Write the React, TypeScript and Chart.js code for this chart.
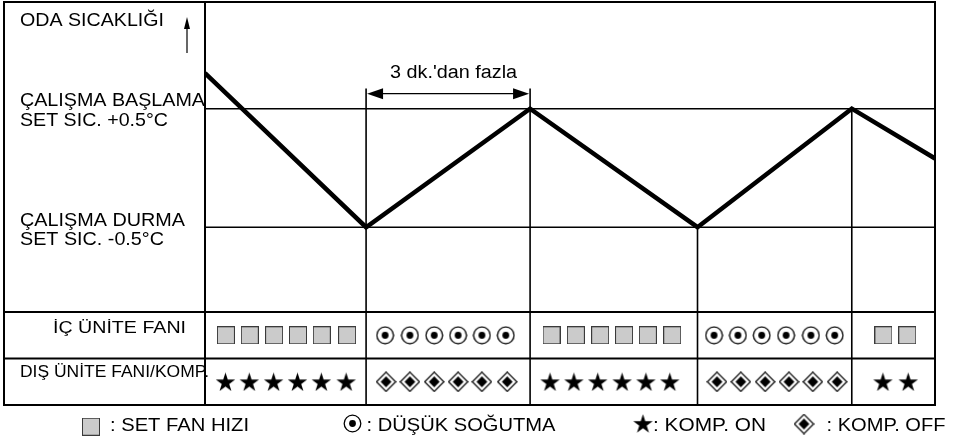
import React, { useEffect, useRef } from 'react';
import { Chart, registerables } from 'chart.js';

Chart.register(...registerables);

// ---- data (time in minutes-like units, temperature relative to set point in °C) ----
const cycleTimes = [0, 3.31, 6.68, 10.12, 13.29, 15];
const roomTemps = [0.8, -0.5, 0.5, -0.5, 0.5, 0.08];
const startSet = 0.5;
const stopSet = -0.5;
const boundaryTimes = [3.31, 6.68, 10.12, 13.29];
const boundaryTops = [0.67, 0.67, -0.5, 0.5];

const axisTitle = 'ODA SICAKLIĞI';
const startLabel = ['ÇALIŞMA BAŞLAMA', 'SET SIC. +0.5°C'];
const stopLabel = ['ÇALIŞMA DURMA', 'SET SIC. -0.5°C'];
const minRunLabel = "3 dk.'dan fazla";
const rowLabels = ['İÇ ÜNİTE FANI', 'DIŞ ÜNİTE FANI/KOMP.'];

const indoorModes = ['fan', 'low', 'fan', 'low', 'fan'];
const outdoorModes = ['on', 'off', 'on', 'off', 'on'];
const indoorTimes = [
  [0.43, 0.92, 1.42, 1.91, 2.4, 2.92],
  [3.7, 4.21, 4.71, 5.2, 5.69, 6.18],
  [7.12, 7.62, 8.12, 8.61, 9.1, 9.6],
  [10.46, 10.95, 11.44, 11.94, 12.45, 12.94],
  [13.94, 14.43],
];
const outdoorTimes = [
  [0.42, 0.91, 1.41, 1.9, 2.39, 2.9],
  [3.72, 4.21, 4.71, 5.2, 5.69, 6.21],
  [7.09, 7.58, 8.07, 8.57, 9.06, 9.55],
  [10.52, 11.01, 11.51, 12.0, 12.49, 12.99],
  [13.93, 14.45],
];

const legendModes = ['fan', 'low', 'on', 'off'];
const legendTexts = [': SET FAN HIZI', ': DÜŞÜK SOĞUTMA', ': KOMP. ON', ': KOMP. OFF'];

// axis ranges
const timeRange = [0, 15];
const tempRange = [-2.0, 1.4];
const rowRange = [-6.667, 2];

const FONT = '"Liberation Sans", Arial, Helvetica, sans-serif';

function makeCanvas(w: number, h: number) {
  const c = document.createElement('canvas');
  c.width = w;
  c.height = h;
  return c;
}

function makeSymbols() {
  const fan = makeCanvas(18, 18);
  {
    const g = fan.getContext('2d')!;
    g.fillStyle = '#cbcbcb';
    g.fillRect(0, 0, 18, 18);
    g.strokeStyle = '#3a3a3a';
    g.lineWidth = 1;
    g.strokeRect(0.5, 0.5, 17, 17);
  }
  const low = makeCanvas(19, 19);
  {
    const g = low.getContext('2d')!;
    g.fillStyle = '#fff';
    g.strokeStyle = '#000';
    g.lineWidth = 1.3;
    g.beginPath();
    g.arc(9.5, 9.5, 8.3, 0, Math.PI * 2);
    g.fill();
    g.stroke();
    g.fillStyle = '#000';
    g.beginPath();
    g.arc(9.5, 9.5, 3.4, 0, Math.PI * 2);
    g.fill();
  }
  const on = makeCanvas(21, 19);
  {
    const g = on.getContext('2d')!;
    const R = 10.2;
    const r = R * 0.382;
    const cx = 10.5;
    const cy = 9.5 + R * (1 - Math.cos(Math.PI / 5)) / 2;
    g.fillStyle = '#000';
    g.beginPath();
    for (let i = 0; i < 10; i++) {
      const rad = i % 2 === 0 ? R : r;
      const ang = -Math.PI / 2 + (i * Math.PI) / 5;
      const px = cx + rad * Math.cos(ang);
      const py = cy + rad * Math.sin(ang);
      if (i === 0) g.moveTo(px, py);
      else g.lineTo(px, py);
    }
    g.closePath();
    g.fill();
  }
  const off = makeCanvas(21, 21);
  {
    const g = off.getContext('2d')!;
    const c = 10.5;
    const R = 9.6;
    g.fillStyle = '#fff';
    g.strokeStyle = '#000';
    g.lineWidth = 1.2;
    g.beginPath();
    g.moveTo(c, c - R);
    g.lineTo(c + R, c);
    g.lineTo(c, c + R);
    g.lineTo(c - R, c);
    g.closePath();
    g.fill();
    g.stroke();
    const q = 5.4;
    g.fillStyle = '#000';
    g.beginPath();
    g.moveTo(c, c - q);
    g.lineTo(c + q, c);
    g.lineTo(c, c + q);
    g.lineTo(c - q, c);
    g.closePath();
    g.fill();
  }
  return { fan, low, on, off } as Record<string, HTMLCanvasElement>;
}

function fitText(ctx: CanvasRenderingContext2D, text: string, x: number, baseline: number, size: number, width: number) {
  ctx.save();
  ctx.font = `${size}px ${FONT}`;
  ctx.textAlign = 'left';
  ctx.textBaseline = 'alphabetic';
  ctx.fillStyle = '#000';
  const w = ctx.measureText(text).width;
  ctx.translate(x, baseline);
  ctx.scale(width / w, 1);
  ctx.fillText(text, 0, 0);
  ctx.restore();
}

function line(ctx: CanvasRenderingContext2D, x1: number, y1: number, x2: number, y2: number) {
  ctx.beginPath();
  ctx.moveTo(x1, y1);
  ctx.lineTo(x2, y2);
  ctx.stroke();
}

function head(ctx: CanvasRenderingContext2D, tipX: number, tipY: number, dx: number, dy: number, len: number, half: number) {
  const bx = tipX - dx * len;
  const by = tipY - dy * len;
  ctx.beginPath();
  ctx.moveTo(tipX, tipY);
  ctx.lineTo(bx - dy * half, by + dx * half);
  ctx.lineTo(bx + dy * half, by - dx * half);
  ctx.closePath();
  ctx.fill();
}

export default function App() {
  const ref = useRef<HTMLCanvasElement | null>(null);

  useEffect(() => {
    const canvas = ref.current;
    if (!canvas) return;
    const sym = makeSymbols();

    const collect = (modes: string[], times: number[][], mode: string, row: number) => {
      const pts: { x: number; y: number }[] = [];
      modes.forEach((m, i) => {
        if (m === mode) times[i].forEach((t) => pts.push({ x: t, y: row }));
      });
      return pts;
    };

    const symbolDataset = (mode: string, data: { x: number; y: number }[]) => ({
      type: 'scatter' as const,
      data,
      yAxisID: 'yRows',
      showLine: false,
      pointStyle: sym[mode],
      pointRadius: 9,
      pointHoverRadius: 9,
    });

    const verticalData: { x: number; y: number | null }[] = [];
    boundaryTimes.forEach((t, i) => {
      verticalData.push({ x: t, y: boundaryTops[i] });
      verticalData.push({ x: t, y: tempRange[0] });
      verticalData.push({ x: t, y: null });
    });

    const framePlugin = {
      id: 'diagramFrame',
      beforeDatasetsDraw(chart: any) {
        const { ctx, chartArea: a, scales } = chart;
        const rows = scales.yRows;
        const r0 = rows.getPixelForValue(0);
        const r1 = rows.getPixelForValue(1);
        ctx.save();
        ctx.strokeStyle = '#000';
        ctx.lineWidth = 2;
        ctx.strokeRect(4, a.top, a.right - 4, a.bottom - a.top);
        line(ctx, a.left, a.top, a.left, a.bottom);
        ctx.lineWidth = 1.8;
        line(ctx, 4, r0, a.right, r0);
        line(ctx, 4, r1, a.right, r1);
        ctx.restore();
      },
      afterDatasetsDraw(chart: any) {
        const { ctx, chartArea: a, scales } = chart;
        const xs = scales.x;
        const ys = scales.y;
        const rows = scales.yRows;
        ctx.save();
        ctx.fillStyle = '#000';
        ctx.strokeStyle = '#000';

        // left column labels
        fitText(ctx, axisTitle, 20, 26, 18, 144);
        const yStart = ys.getPixelForValue(startSet);
        const yStop = ys.getPixelForValue(stopSet);
        fitText(ctx, startLabel[0], 20, yStart - 2.5, 18, 185);
        fitText(ctx, startLabel[1], 20, yStart + 17, 18, 148);
        fitText(ctx, stopLabel[0], 20, yStop - 1.5, 18, 165);
        fitText(ctx, stopLabel[1], 20, yStop + 18, 18, 144);

        // up arrow next to the title
        ctx.lineWidth = 1.2;
        const ax = a.left - 18;
        line(ctx, ax, 53, ax, 27);
        head(ctx, ax, 17, 0, -1, 12, 3);

        // row labels
        fitText(ctx, rowLabels[0], 53, rows.getPixelForValue(0.5) - 2, 17, 133);
        fitText(ctx, rowLabels[1], 20, rows.getPixelForValue(1.5) - 5, 16, 189);

        // minimum run time dimension
        const x1 = xs.getPixelForValue(boundaryTimes[0]);
        const x2 = xs.getPixelForValue(boundaryTimes[1]);
        const dy = yStart - 15;
        ctx.lineWidth = 1.2;
        line(ctx, x1 + 10, dy, x2 - 10, dy);
        head(ctx, x1 + 1, dy, -1, 0, 16, 5.5);
        head(ctx, x2 - 1, dy, 1, 0, 16, 5.5);
        fitText(ctx, minRunLabel, (x1 + x2) / 2 - 58, dy - 16, 18, 127);

        // legend
        const symX = [91, 352.5, 643, 804];
        const symY = [426.7, 423.5, 423.4, 424];
        const txtX = [110, 366.5, 653, 826.5];
        const txtW = [139, 189, 113, 119];
        legendModes.forEach((m, i) => {
          const img = sym[m];
          ctx.drawImage(img, symX[i] - img.width / 2, symY[i] - img.height / 2);
          fitText(ctx, legendTexts[i], txtX[i], 431, 18, txtW[i]);
        });
        ctx.restore();
      },
    };

    const chart = new Chart(canvas, {
      type: 'scatter',
      data: {
        datasets: [
          {
            type: 'scatter',
            data: cycleTimes.map((t, i) => ({ x: t, y: roomTemps[i] })),
            showLine: true,
            borderColor: '#000',
            borderWidth: 4.5,
            pointRadius: 0,
            pointHoverRadius: 0,
            tension: 0,
            borderJoinStyle: 'miter',
          },
          symbolDataset('fan', collect(indoorModes, indoorTimes, 'fan', 0.5)),
          symbolDataset('low', collect(indoorModes, indoorTimes, 'low', 0.5)),
          symbolDataset('on', collect(outdoorModes, outdoorTimes, 'on', 1.5)),
          symbolDataset('off', collect(outdoorModes, outdoorTimes, 'off', 1.5)),
          {
            type: 'scatter',
            data: [
              { x: timeRange[0], y: startSet },
              { x: timeRange[1], y: startSet },
            ],
            showLine: true,
            borderColor: '#000',
            borderWidth: 1.5,
            pointRadius: 0,
            pointHoverRadius: 0,
          },
          {
            type: 'scatter',
            data: [
              { x: timeRange[0], y: stopSet },
              { x: timeRange[1], y: stopSet },
            ],
            showLine: true,
            borderColor: '#000',
            borderWidth: 1.5,
            pointRadius: 0,
            pointHoverRadius: 0,
          },
          {
            type: 'scatter',
            data: verticalData as any,
            showLine: true,
            spanGaps: false,
            borderColor: '#000',
            borderWidth: 1.6,
            pointRadius: 0,
            pointHoverRadius: 0,
            clip: false as any,
          },
        ] as any,
      },
      options: {
        animation: false,
        responsive: false,
        events: [],
        layout: { autoPadding: false, padding: { left: 205, right: 20, top: 2, bottom: 36 } } as any,
        plugins: {
          legend: { display: false },
          tooltip: { enabled: false },
          title: { display: false },
        },
        scales: {
          x: { type: 'linear', min: timeRange[0], max: timeRange[1], display: false },
          y: { type: 'linear', min: tempRange[0], max: tempRange[1], display: false },
          yRows: {
            type: 'linear',
            axis: 'y',
            position: 'left',
            min: rowRange[0],
            max: rowRange[1],
            reverse: true,
            display: false,
          },
        } as any,
      },
      plugins: [framePlugin],
    });

    return () => chart.destroy();
  }, []);

  return (
    <div style={{ position: 'absolute', left: 0, top: 0, width: 955, height: 441, background: '#fff' }}>
      <canvas ref={ref} width={955} height={441} style={{ display: 'block', width: 955, height: 441 }} />
    </div>
  );
}
